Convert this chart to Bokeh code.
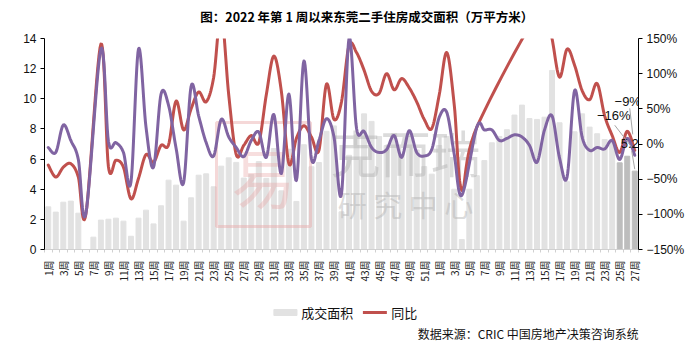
import numpy as np
from bokeh.plotting import figure
from bokeh.layouts import column
from bokeh.models import (Range1d, LinearAxis, FixedTicker, Label, Arrow, ColumnDataSource)
from bokeh.core.properties import value
from bokeh.embed import file_html
from bokeh.resources import INLINE

# ---------------- data ----------------
title_text = "图：2022 年第 1 周以来东莞二手住房成交面积（万平方米）"
source_text = "数据来源：CRIC 中国房地产决策咨询系统"
series_names = ["成交面积", "同比"]

weeks_2022 = list(range(1, 53))
weeks_2023 = list(range(1, 28))
week_labels = [f"{w}周" for w in weeks_2022 + weeks_2023]

# 成交面积 (万平方米)
area = [2.83, 2.48, 3.14, 3.21, 2.41, 0.0, 0.82, 1.95, 2.01, 2.08,
        1.88, 0.88, 2.08, 2.61, 1.70, 2.90, 4.60, 4.27, 1.88, 3.43,
        4.93, 5.02, 4.16, 5.53, 6.08, 5.78, 4.74, 4.98, 5.83, 4.72,
        6.70, 3.89, 6.65, 3.19, 6.95, 5.49, 5.77, 7.84, 8.20, 2.50,
        6.25, 7.60, 9.00, 8.50, 7.50, 6.90, 7.70, 6.30, 7.50, 6.60,
        5.50, 5.00, 6.90, 7.50, 4.00, 0.66, 4.00, 4.90, 5.90, 7.08,
        7.50, 7.95, 8.92, 9.58, 8.69, 8.63, 8.78, 11.88, 8.41, 4.50,
        7.81, 9.00, 8.12, 7.68, 7.30, 7.19, 5.75, 6.19, 5.20]

# 同比 (%)
yoy = [-30, -47, -33, -28, -47, -100, None, 142, -32, -23,
       -33, -78, -49, -15, -26, -2, -1, 61, 20, 50,
       74, 60, 95, 185, 70, -15, -2, 12, 2, 70,
       125, 75, -28, 8, 26, 10, -9, 85, 35, 60,
       140, 130, 105, 75, 72, 100, 77, 93, 80, 60,
       35, 22, 70, 130, 55, -66, None, 24, None, None,
       None, None, None, None, None, None, 200, 150, 95, 135,
       112, 76, 63, 86, 40, 12, -12, 18, -9]

# 环比 (%)
mom = [-5, -12, 27, 5, -22, -99, None, 135, 4, 2,
       -12, -54, 135, 24, -33, 71, 55, -6, -55, 82,
       40, 2, -17, 35, 10, -5, -18, 5, 17, -19,
       42, -42, 71, -52, 118, -21, 5, 36, 10, -71,
       150, 22, 18, -5, -12, -8, 12, -19, 19, -12,
       -17, -8, 38, 45, -15, -73, None, 24, 20, 20,
       5, 8, 13, 10, -2, -26, 20, 40, -20, -47,
       76, 10, -9, -5, -7, 5, -22, 8, -16]

n = len(area)
xs = list(range(n))
latest_n = 3  # the last weeks are highlighted in a darker grey

BAR_C, BAR_DARK, RED, PURPLE = "#e2e2e2", "#bdbdbd", "#c0504d", "#8064a2"
CJK = "Noto Sans CJK SC"


def smooth(xv, yv, steps=14):
    """Excel-like smoothed rendering of a line through the given points."""
    pts = [(float(a), float(b)) for a, b in zip(xv, yv) if b is not None]
    P = np.array(pts)
    ox, oy = [P[0, 0]], [P[0, 1]]
    for k in range(len(P) - 1):
        p0 = P[k - 1] if k > 0 else P[k]
        p1, p2 = P[k], P[k + 1]
        p3 = P[k + 2] if k + 2 < len(P) else P[k + 1]
        c1 = p1 + (p2 - p0) / 6.0
        c2 = p2 - (p3 - p1) / 6.0
        for t in np.linspace(0, 1, steps)[1:]:
            b = ((1 - t) ** 3) * p1 + 3 * ((1 - t) ** 2) * t * c1 + 3 * (1 - t) * t * t * c2 + (t ** 3) * p2
            ox.append(b[0]); oy.append(b[1])
    return ox, oy


def strip(fig):
    fig.outline_line_color = None
    fig.xgrid.visible = False
    fig.ygrid.visible = False
    fig.background_fill_color = "white"
    fig.border_fill_color = "white"


W = 694
TOP_H, MAIN_H, BOT_H = 30, 260, 61

# ---------------- title strip ----------------
pt = figure(width=W, height=TOP_H, x_range=Range1d(0, W), y_range=Range1d(TOP_H, 0),
            x_axis_type=None, y_axis_type=None, output_backend="svg", toolbar_location=None,
            min_border=0)
strip(pt)
pt.text(x=[182], y=[16], text=[title_text], text_font=value(CJK), text_font_size="12.5px",
        text_font_style="bold", text_color="#000000", text_align="left", text_baseline="middle")

# ---------------- main chart ----------------
ML, MR, MT, MB = 44, 56, 8, 41
p = figure(width=W, height=MAIN_H, x_range=Range1d(-0.5, n - 0.5), y_range=Range1d(0, 14),
           output_backend="svg", toolbar_location=None,
           min_border_left=ML, min_border_right=MR, min_border_top=MT, min_border_bottom=MB)
p.extra_y_ranges = {"pct": Range1d(-150, 150)}
strip(p)

colors = [BAR_DARK if i >= n - latest_n else BAR_C for i in xs]
src = ColumnDataSource(dict(x=xs, area=area, color=colors))
bars = p.vbar(x="x", top="area", width=0.66, color="color", source=src)

# watermark (between bars and lines); positions from canvas pixels
fw = W - ML - MR
fh = MAIN_H - MT - MB
Y0 = TOP_H  # canvas y of this figure's top
def px2x(px):
    return -0.5 + (px - ML) / fw * n
def py2y(py):
    return (Y0 + MT + fh - py) / fh * 14

p.quad(left=[px2x(216)], right=[px2x(310)], bottom=[py2y(226)], top=[py2y(122)],
       fill_color=None, line_color="#e9a9a9", line_width=3, line_alpha=0.45)
p.text(x=[px2x(263)], y=[py2y(174)], text=["易"], text_font=value(CJK),
       text_font_size="64px", text_color="#e9a0a0", text_alpha=0.35,
       text_align="center", text_baseline="middle")
p.text(x=[px2x(405)], y=[py2y(150)], text=["克而瑞"], text_font=value(CJK),
       text_font_size="50px", text_color="#b0b0b0", text_alpha=0.45,
       text_align="center", text_baseline="middle")
p.text(x=[px2x(405)], y=[py2y(203)], text=["研 究 中 心"], text_font=value(CJK),
       text_font_size="29px", text_color="#b0b0b0", text_alpha=0.45,
       text_align="center", text_baseline="middle")

rx, ry = smooth(xs, yoy)
p.line(rx, ry, y_range_name="pct", line_color=RED, line_width=3, line_join="round", line_cap="round")
mx, my = smooth(xs, mom)
p.line(mx, my, y_range_name="pct", line_color=PURPLE, line_width=3, line_join="round", line_cap="round")

p.yaxis.ticker = FixedTicker(ticks=list(range(0, 15, 2)))
def style_y(ax):
    ax.axis_line_color = "black"
    ax.major_tick_line_color = "black"
    ax.major_tick_out = 4
    ax.major_tick_in = 0
    ax.minor_tick_line_color = None
    ax.major_label_text_font = "Liberation Sans"
    ax.major_label_text_font_size = "12px"
    ax.major_label_text_color = "#111111"
    ax.major_label_standoff = 4
for ax in p.yaxis:
    style_y(ax)

pct_ticks = [-150, -100, -50, 0, 50, 100, 150]
raxis = LinearAxis(y_range_name="pct", ticker=FixedTicker(ticks=pct_ticks),
                   major_label_overrides={t: f"{t}%".replace("-", "−") for t in pct_ticks})
style_y(raxis)
p.add_layout(raxis, "right")

label_idx = list(range(0, n, 2))
xa = p.xaxis[0]
xa.ticker = FixedTicker(ticks=label_idx, minor_ticks=[i + 0.5 for i in range(-1, n)])
xa.major_label_overrides = {i: week_labels[i] for i in label_idx}
xa.major_label_orientation = np.pi / 2
xa.major_label_text_font = CJK
xa.major_label_text_font_size = "10px"
xa.major_label_text_color = "#222222"
xa.axis_line_color = "#d0d0d0"
xa.major_tick_line_color = None
xa.minor_tick_line_color = "#d0d0d0"
xa.minor_tick_out = 3
xa.minor_tick_in = 0
xa.major_label_standoff = 5

# data labels for the latest week
last = n - 1
ux = fw / n            # px per category
up = fh / 300.0        # px per percentage point
ua = fh / 14.0         # px per area unit
lab_font = "Liberation Sans"
p.add_layout(Label(x=last, y=mom[last], y_range_name="pct", text=f"{mom[last]}%".replace("-", "−"),
                   x_offset=-21, y_offset=40, text_font=lab_font, text_font_size="13px",
                   text_align="center", text_baseline="middle", text_color="#111111"))
p.add_layout(Label(x=last, y=yoy[last], y_range_name="pct", text=f"{yoy[last]}%".replace("-", "−"),
                   x_offset=-7, y_offset=49, text_font=lab_font, text_font_size="13px",
                   text_align="center", text_baseline="middle", text_color="#111111"))
p.add_layout(Label(x=last, y=area[last], text=f"{area[last]}",
                   x_offset=-5, y_offset=28, text_font=lab_font, text_font_size="13px",
                   text_align="center", text_baseline="middle", text_color="#111111"))
p.add_layout(Arrow(end=None, x_start=last - 20 / ux, y_start=mom[last] + 30 / up,
                   x_end=last - 3 / ux, y_end=mom[last] + 8 / up, y_range_name="pct",
                   line_color="#a6a6a6", line_width=1))
p.add_layout(Arrow(end=None, x_start=last - 5 / ux, y_start=yoy[last] + 42 / up,
                   x_end=last - 2 / ux, y_end=yoy[last] + 16 / up, y_range_name="pct",
                   line_color="#a6a6a6", line_width=1))
p.add_layout(Arrow(end=None, x_start=last - 3 / ux, y_start=area[last] + 20 / ua,
                   x_end=last, y_end=area[last] + 2 / ua,
                   line_color="#a6a6a6", line_width=1))

# ---------------- legend + source strip ----------------
pb = figure(width=W, height=BOT_H, x_range=Range1d(0, W), y_range=Range1d(BOT_H, 0),
            x_axis_type=None, y_axis_type=None, output_backend="svg", toolbar_location=None,
            min_border=0)
strip(pb)
ly = 22
pb.quad(left=[268], right=[295], top=[ly - 3], bottom=[ly + 3], color=BAR_C)
pb.text(x=[300], y=[ly], text=[series_names[0]], text_font=value(CJK), text_font_size="13px",
        text_color="#111111", text_align="left", text_baseline="middle")
pb.segment(x0=[372], y0=[ly], x1=[400], y1=[ly], line_color=RED, line_width=3)
pb.text(x=[405], y=[ly], text=[series_names[1]], text_font=value(CJK), text_font_size="13px",
        text_color="#111111", text_align="left", text_baseline="middle")
pb.text(x=[436], y=[43], text=[source_text], text_font=value(CJK), text_font_size="12px",
        text_color="#111111", text_align="left", text_baseline="middle")

layout = column(pt, p, pb, spacing=0)
open("out.html", "w").write(file_html(layout, INLINE))
